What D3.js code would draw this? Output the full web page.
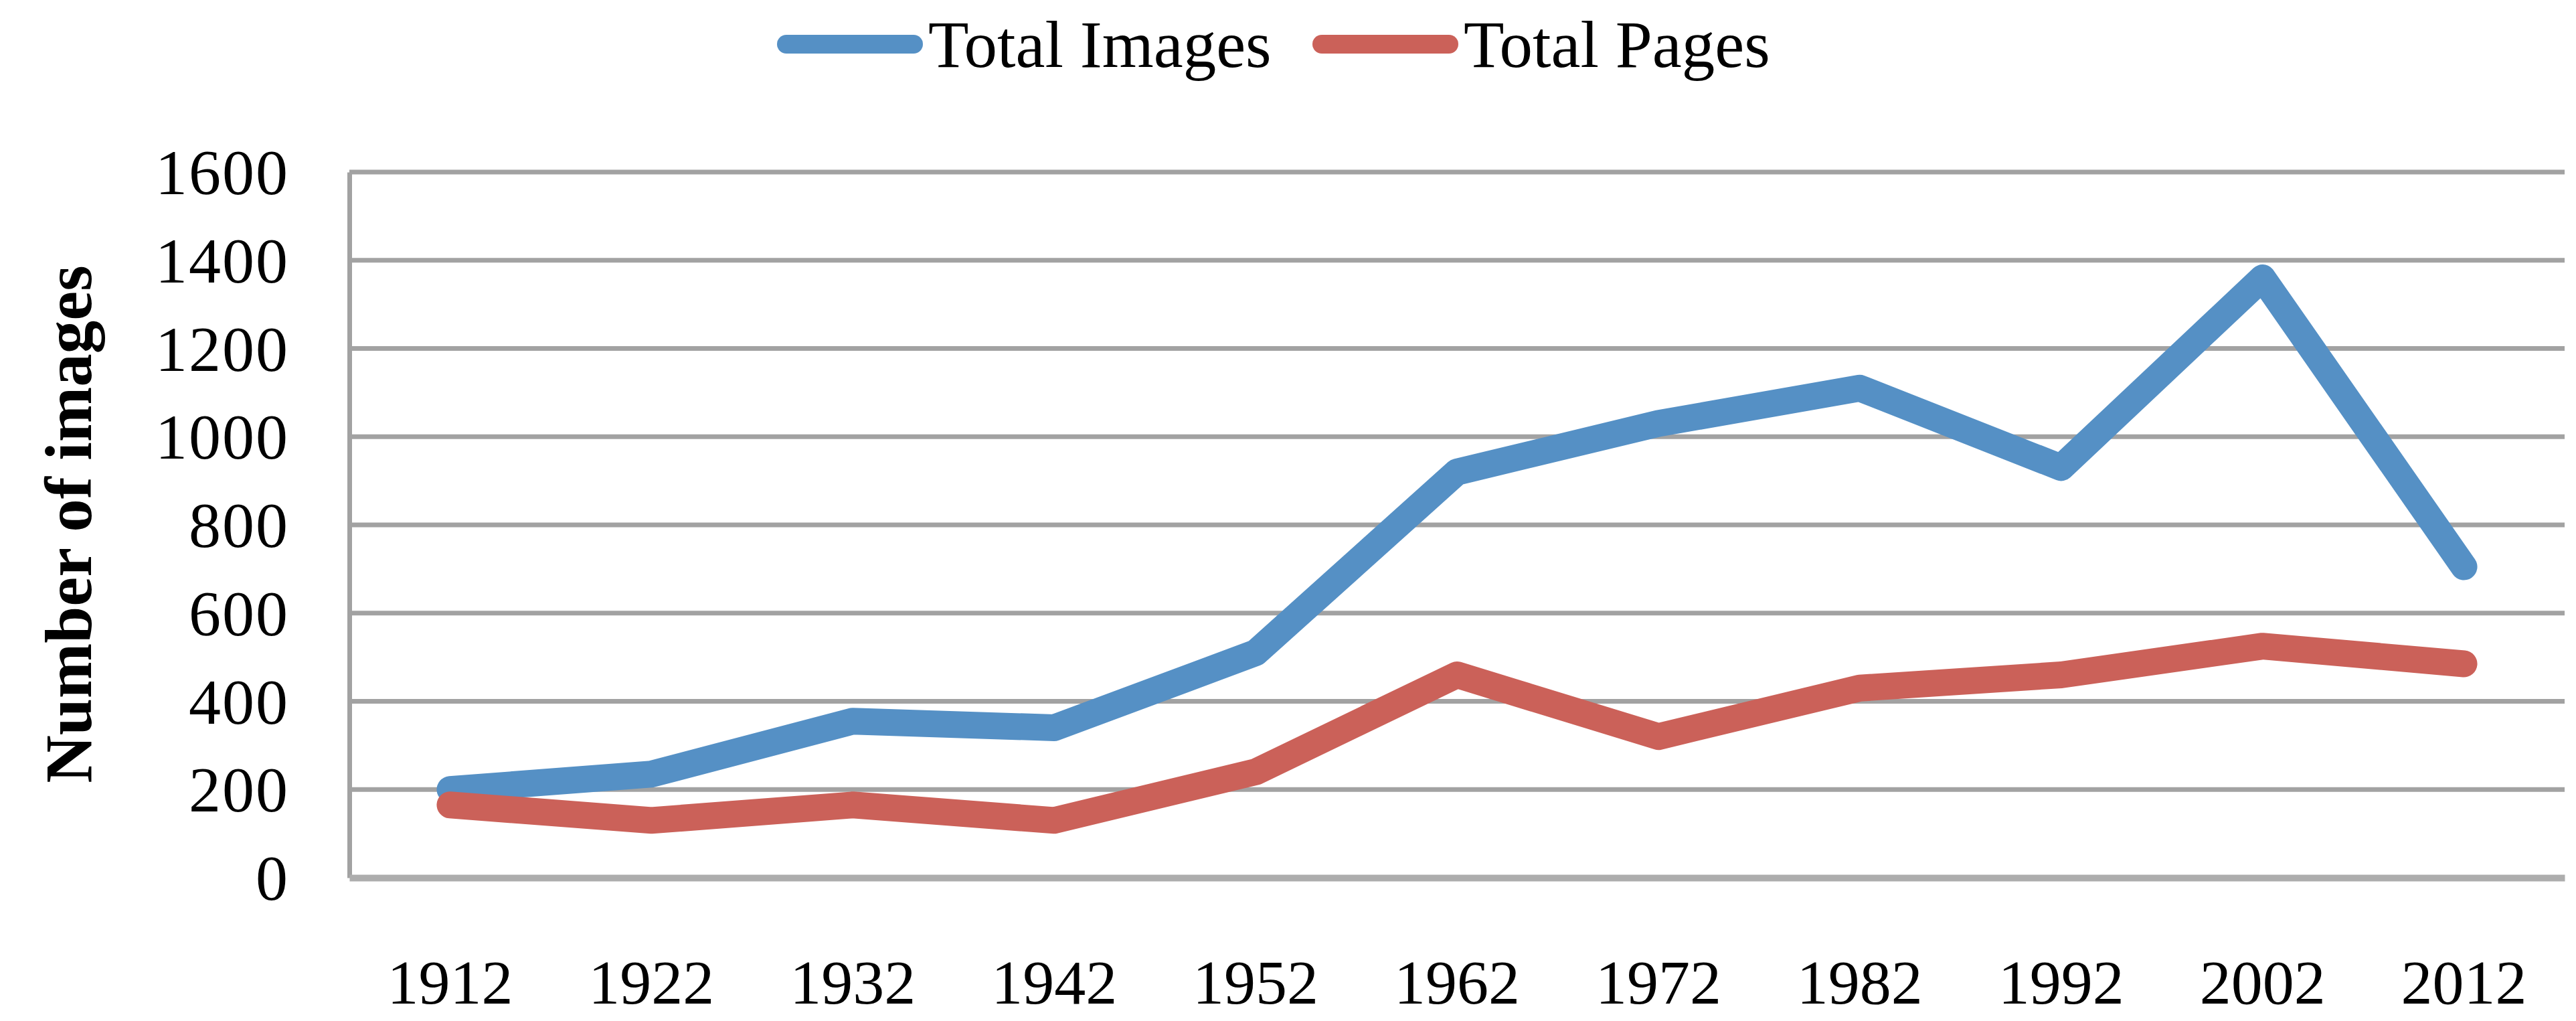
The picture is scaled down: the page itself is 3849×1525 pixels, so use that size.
<html>
<head>
	<meta charset="utf-8">
	<title>Images and pages</title>
	<script src="https://d3js.org/d3.v7.min.js"></script>
	<style>
	body { margin: 0; background: #fff; }
	text { font-family: "Liberation Serif", "Times New Roman", serif; fill: #000; }
	.grid line { stroke: #a2a2a2; stroke-width: 7; }
	.series { fill: none; stroke-width: 40; stroke-linecap: round; stroke-linejoin: round; }
	</style>
</head>
<body>
	<div id="chart"></div>

	<script>
		// data
		var years = ["1912", "1922", "1932", "1942", "1952", "1962", "1972", "1982", "1992", "2002", "2012"];
		var totalImages = [200, 235, 355, 340, 510, 920, 1030, 1110, 930, 1360, 705];
		var totalPages = [165, 130, 165, 130, 240, 460, 320, 430, 460, 525, 485];
		var yTicks = [0, 200, 400, 600, 800, 1000, 1200, 1400, 1600];
		var seriesNames = ["Total Images", "Total Pages"];
		var seriesColors = ["#5590c5", "#cb6159"];

		var svg = d3.select("#chart")
			.append("svg")
			.attr("width", 3849)
			.attr("height", 1525),
		    margin = {top: 257, right: 17, bottom: 214, left: 522},
		    width = +svg.attr("width") - margin.left - margin.right,
		    height = +svg.attr("height") - margin.top - margin.bottom;

		var x = d3.scaleBand().domain(years).range([0, width]),
		    y = d3.scaleLinear().domain([0, 1600]).range([height, 0]);

		var g = svg.append("g")
		    .attr("transform", "translate(" + margin.left + "," + margin.top + ")");

		// horizontal gridlines
		g.append("g")
		    .attr("class", "grid")
		    .selectAll("line")
		    .data(yTicks.slice(1))
		    .enter().append("line")
		      .attr("x1", 0)
		      .attr("x2", width)
		      .attr("y1", function(d) { return y(d); })
		      .attr("y2", function(d) { return y(d); });

		// y axis
		var yAxis = g.append("g")
		    .call(d3.axisLeft(y).tickValues(yTicks).tickFormat(d3.format("d")).tickSize(0).tickPadding(90));
		yAxis.select(".domain").attr("stroke", "#a2a2a2").attr("stroke-width", 7);
		yAxis.selectAll("text")
		    .attr("font-size", 96)
		    .attr("font-family", "Liberation Serif")
		    .attr("letter-spacing", 2)
		    .attr("dy", "0.34em");

		// x axis
		var xAxis = g.append("g")
		    .attr("transform", "translate(0," + height + ")")
		    .call(d3.axisBottom(x).tickSize(0).tickPadding(188));
		xAxis.select(".domain").attr("stroke", "#adadad").attr("stroke-width", 10);
		xAxis.selectAll("text")
		    .attr("font-size", 94)
		    .attr("font-family", "Liberation Serif")
		    .attr("dy", "0");

		// y axis title
		svg.append("text")
		    .attr("transform", "translate(136,783) rotate(-90)")
		    .attr("text-anchor", "middle")
		    .attr("font-size", 99)
		    .attr("font-weight", "bold")
		    .text("Number of images");

		// lines
		var line = d3.line()
		    .x(function(d, i) { return x(years[i]) + x.bandwidth() / 2; })
		    .y(function(d) { return y(d); });

		[totalImages, totalPages].forEach(function(values, i) {
		  g.append("path")
		      .datum(values)
		      .attr("class", "series")
		      .attr("stroke", seriesColors[i])
		      .attr("d", line);
		});

		// legend
		var legendX = [1175, 1975];
		var legend = svg.selectAll(".legend")
		    .data(seriesNames)
		    .enter().append("g")
		      .attr("class", "legend")
		      .attr("transform", function(d, i) { return "translate(" + legendX[i] + ",66)"; });

		legend.append("line")
		    .attr("x1", 0)
		    .attr("x2", 190)
		    .attr("stroke", function(d, i) { return seriesColors[i]; })
		    .attr("stroke-width", 28)
		    .attr("stroke-linecap", "round");

		legend.append("text")
		    .attr("x", 212)
		    .attr("y", 34)
		    .attr("font-size", 99)
		    .text(function(d) { return d; });
	</script>
</body>
</html>
